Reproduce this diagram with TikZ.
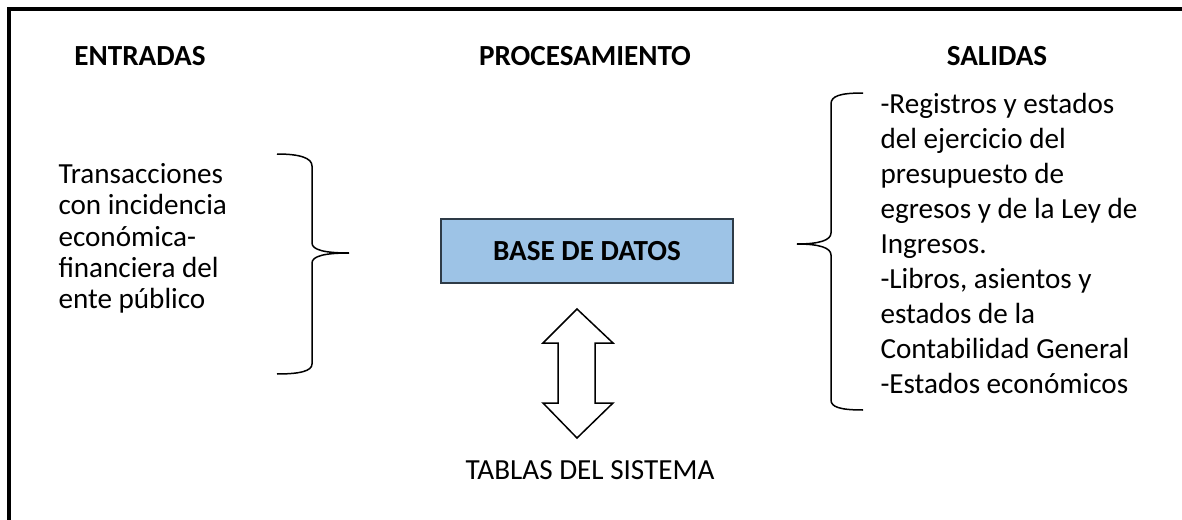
\documentclass[tikz,border=0pt]{standalone}
\usepackage{fontspec}
\setmainfont{Carlito}
\usetikzlibrary{positioning}

\definecolor{boxblue}{HTML}{9DC3E6}
\definecolor{boxline}{HTML}{2E3B47}
\newcommand\diagsize{\fontsize{11.66}{12.5}\selectfont}

\tikzset{
  header/.style={font=\diagsize\bfseries, inner sep=0pt},
  listtext/.style={align=left, inner sep=0pt, anchor=north west},
  dbbox/.style={draw=boxline, line width=0.7pt, fill=boxblue, font=\diagsize\bfseries,
                minimum width=292*0.4pt, minimum height=64*0.4pt},
  brace/.style={line width=0.6pt},
}

\begin{document}
\begin{tikzpicture}[x=0.4pt,y=-0.4pt,font=\diagsize]
\useasboundingbox (0,0) rectangle (1182,520);
% frame (only the top and left sides fall inside the page)
\draw[line width=1.3pt] (9,530) -- (9,9) -- (1190,9);

% column titles
\node[header] (entradas) at (140,56) {ENTRADAS};
\node[header] (proc)     at (585,56) {PROCESAMIENTO};
\node[header] (salidas)  at (997,56) {SALIDAS};

% inputs
\node[listtext] (trans) at (58,163) {Transacciones\\con incidencia\\económica-\\financiera del\\ente público};
\draw[brace] (277,154) .. controls (300,154) and (312,158) .. (312,166)
  -- (312,243) .. controls (312,250) and (325,253) .. (349,253)
  .. controls (325,253) and (312,256) .. (312,263)
  -- (312,364) .. controls (312,371) and (300,374) .. (277,374);

% processing
\node[dbbox] (db) at (587,251) {BASE DE DATOS};
\draw[fill=white, line width=0.6pt] (577,309) -- (613,343) -- (595,343) -- (595,403)
  -- (613,403) -- (577,438) -- (543,403) -- (558,403) -- (558,343) -- (543,343) -- cycle;
\node (tablas) at (590,470) {TABLAS DEL SISTEMA};

% outputs
\draw[brace] (863,93) .. controls (840,93) and (831,96) .. (831,104)
  -- (831,233) .. controls (831,240) and (820,244) .. (797,244)
  .. controls (820,244) and (831,248) .. (831,255)
  -- (831,400) .. controls (831,407) and (840,410) .. (863,410);
\node[listtext, font=\fontsize{11.66}{14}\selectfont] (regs) at (880,93) {-Registros y estados\\del ejercicio del\\presupuesto de\\egresos y de la Ley de\\Ingresos.\\-Libros, asientos y\\estados de la\\Contabilidad General\\-Estados económicos};
\end{tikzpicture}
\end{document}
